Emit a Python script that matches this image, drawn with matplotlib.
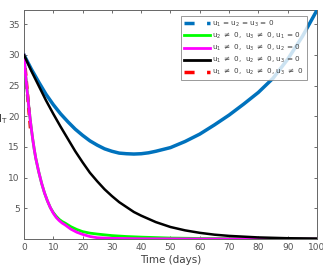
import matplotlib
matplotlib.use('Agg')
import matplotlib.pyplot as plt
from matplotlib.lines import Line2D

plt.rcParams['font.family'] = 'DejaVu Sans'
plt.rcParams['mathtext.default'] = 'regular'

# Datos
t_blue = [0, 2.5, 5, 7.5, 10, 12.5, 15, 17.5, 20, 22.5, 25, 27.5, 30, 32.5, 35, 37.5,
          40, 42.5, 45, 47.5, 50, 55, 60, 65, 70, 75, 80, 85, 90, 95, 100]
blue = [30, 27.7, 25.6, 23.6, 21.9, 20.4, 19.1, 17.9, 16.9, 16.0, 15.3, 14.7, 14.3,
        14.0, 13.9, 13.85, 13.9, 14.05, 14.3, 14.6, 14.9, 15.9, 17.1, 18.6, 20.2,
        22.0, 23.9, 26.2, 29.3, 33.0, 37.3]

t_black = [0, 2.5, 5, 7.5, 10, 12.5, 15, 17.5, 20, 22.5, 25, 27.5, 30, 32.5, 35, 37.5,
           40, 45, 50, 55, 60, 65, 70, 80, 90, 100]
black = [30, 27.4, 25, 22.6, 20.4, 18.3, 16.3, 14.3, 12.5, 10.8, 9.4, 8.1, 7.0, 6.0,
         5.2, 4.4, 3.8, 2.75, 1.95, 1.4, 1.0, 0.7, 0.5, 0.25, 0.12, 0.06]

t_mag = [0, 0.5, 1, 1.5, 2, 2.5, 3, 3.5, 4, 5, 6, 7, 8, 9, 10, 11, 12, 13, 14, 16,
         18, 20, 22.5, 25, 30, 40, 60, 100]
magenta = [30, 27, 24.5, 22.2, 20, 18, 16.2, 14.6, 13.2, 11, 9.1, 7.5, 6.2, 5.1, 4.2,
           3.5, 3.0, 2.6, 2.3, 1.6, 1.1, 0.75, 0.4, 0.2, 0.1, 0.03, 0.0, 0.0]

t_green = [0, 0.5, 1, 1.5, 2, 2.5, 3, 3.5, 4, 5, 6, 7, 8, 9, 10, 11, 12, 13, 14, 16,
           18, 20, 22.5, 25, 30, 35, 40, 50, 60, 100]
green = [30, 27, 24.5, 22.2, 20, 18, 16.2, 14.6, 13.2, 11, 9.1, 7.5, 6.2, 5.1, 4.3,
         3.7, 3.2, 2.85, 2.6, 2.0, 1.55, 1.2, 0.95, 0.8, 0.55, 0.4, 0.3, 0.15, 0.08, 0.0]

t_red = [0, 0.5, 1, 1.5, 2, 2.3]
red = [30, 27.3, 24.6, 22.0, 19.3, 17.5]

labels = [r'$u_1$ = $u_2$ = $u_3$ = 0',
          r'$u_2$ $\neq$ 0,  $u_3$ $\neq$ 0, $u_1$ = 0',
          r'$u_1$ $\neq$ 0,  $u_3$ $\neq$ 0, $u_2$ = 0',
          r'$u_1$ $\neq$ 0,  $u_2$ $\neq$ 0, $u_3$ = 0',
          r'$u_1$ $\neq$ 0,  $u_2$ $\neq$ 0, $u_3$ $\neq$ 0']

c_blue = '#0072BD'
c_green = '#00FF00'
c_mag = '#FF00FF'
c_black = '#000000'
c_red = '#FF0000'

fig = plt.figure(figsize=(3.23, 2.67), dpi=100)
ax = fig.add_axes([0.0743, 0.105, 0.907, 0.859])

ax.plot(t_red, red, color=c_red, lw=2.5, ls=(0, (2.2, 1.6)), zorder=2)
ax.plot(t_blue, blue, color=c_blue, lw=2.5, zorder=3)
ax.plot(t_green, green, color=c_green, lw=2.0, zorder=3)
ax.plot(t_mag, magenta, color=c_mag, lw=2.0, zorder=4)
ax.plot(t_black, black, color=c_black, lw=1.8, zorder=5)

ax.set_xlim(0, 100)
ax.set_ylim(0, 37.4)
ax.set_xticks(range(0, 101, 10))
ax.set_yticks(range(5, 36, 5))
ax.tick_params(direction='in', length=2.5, width=0.6, labelsize=6.5,
               colors='#555555', top=True, right=True, pad=3)
for sp in ax.spines.values():
    sp.set_color('#666666')
    sp.set_linewidth(0.7)

ax.set_xlabel('Time (days)', fontsize=7.5, color='#404040', labelpad=2)
fig.text(-0.005, 0.555, r'$I_T$', fontsize=7.5, color='#404040', ha='left', va='center')

handles = [Line2D([], [], color=c_blue, lw=2.5, ls=(0, (2.9, 3.6))),
           Line2D([], [], color=c_green, lw=2.0),
           Line2D([], [], color=c_mag, lw=2.0),
           Line2D([], [], color=c_black, lw=2.0),
           Line2D([], [], color=c_red, lw=2.5, ls=(0, (2.9, 3.6)))]
leg = ax.legend(handles, labels, loc='upper right', bbox_to_anchor=(0.965, 0.97),
                fontsize=5.2, frameon=True, fancybox=False, handlelength=3.7,
                handletextpad=0.3, labelspacing=0.25, borderpad=0.35,
                borderaxespad=0.0)
leg.get_frame().set_edgecolor('#808080')
leg.get_frame().set_linewidth(0.7)
for txt in leg.get_texts():
    txt.set_color('#404040')

fig.savefig('out.png', dpi=100)
